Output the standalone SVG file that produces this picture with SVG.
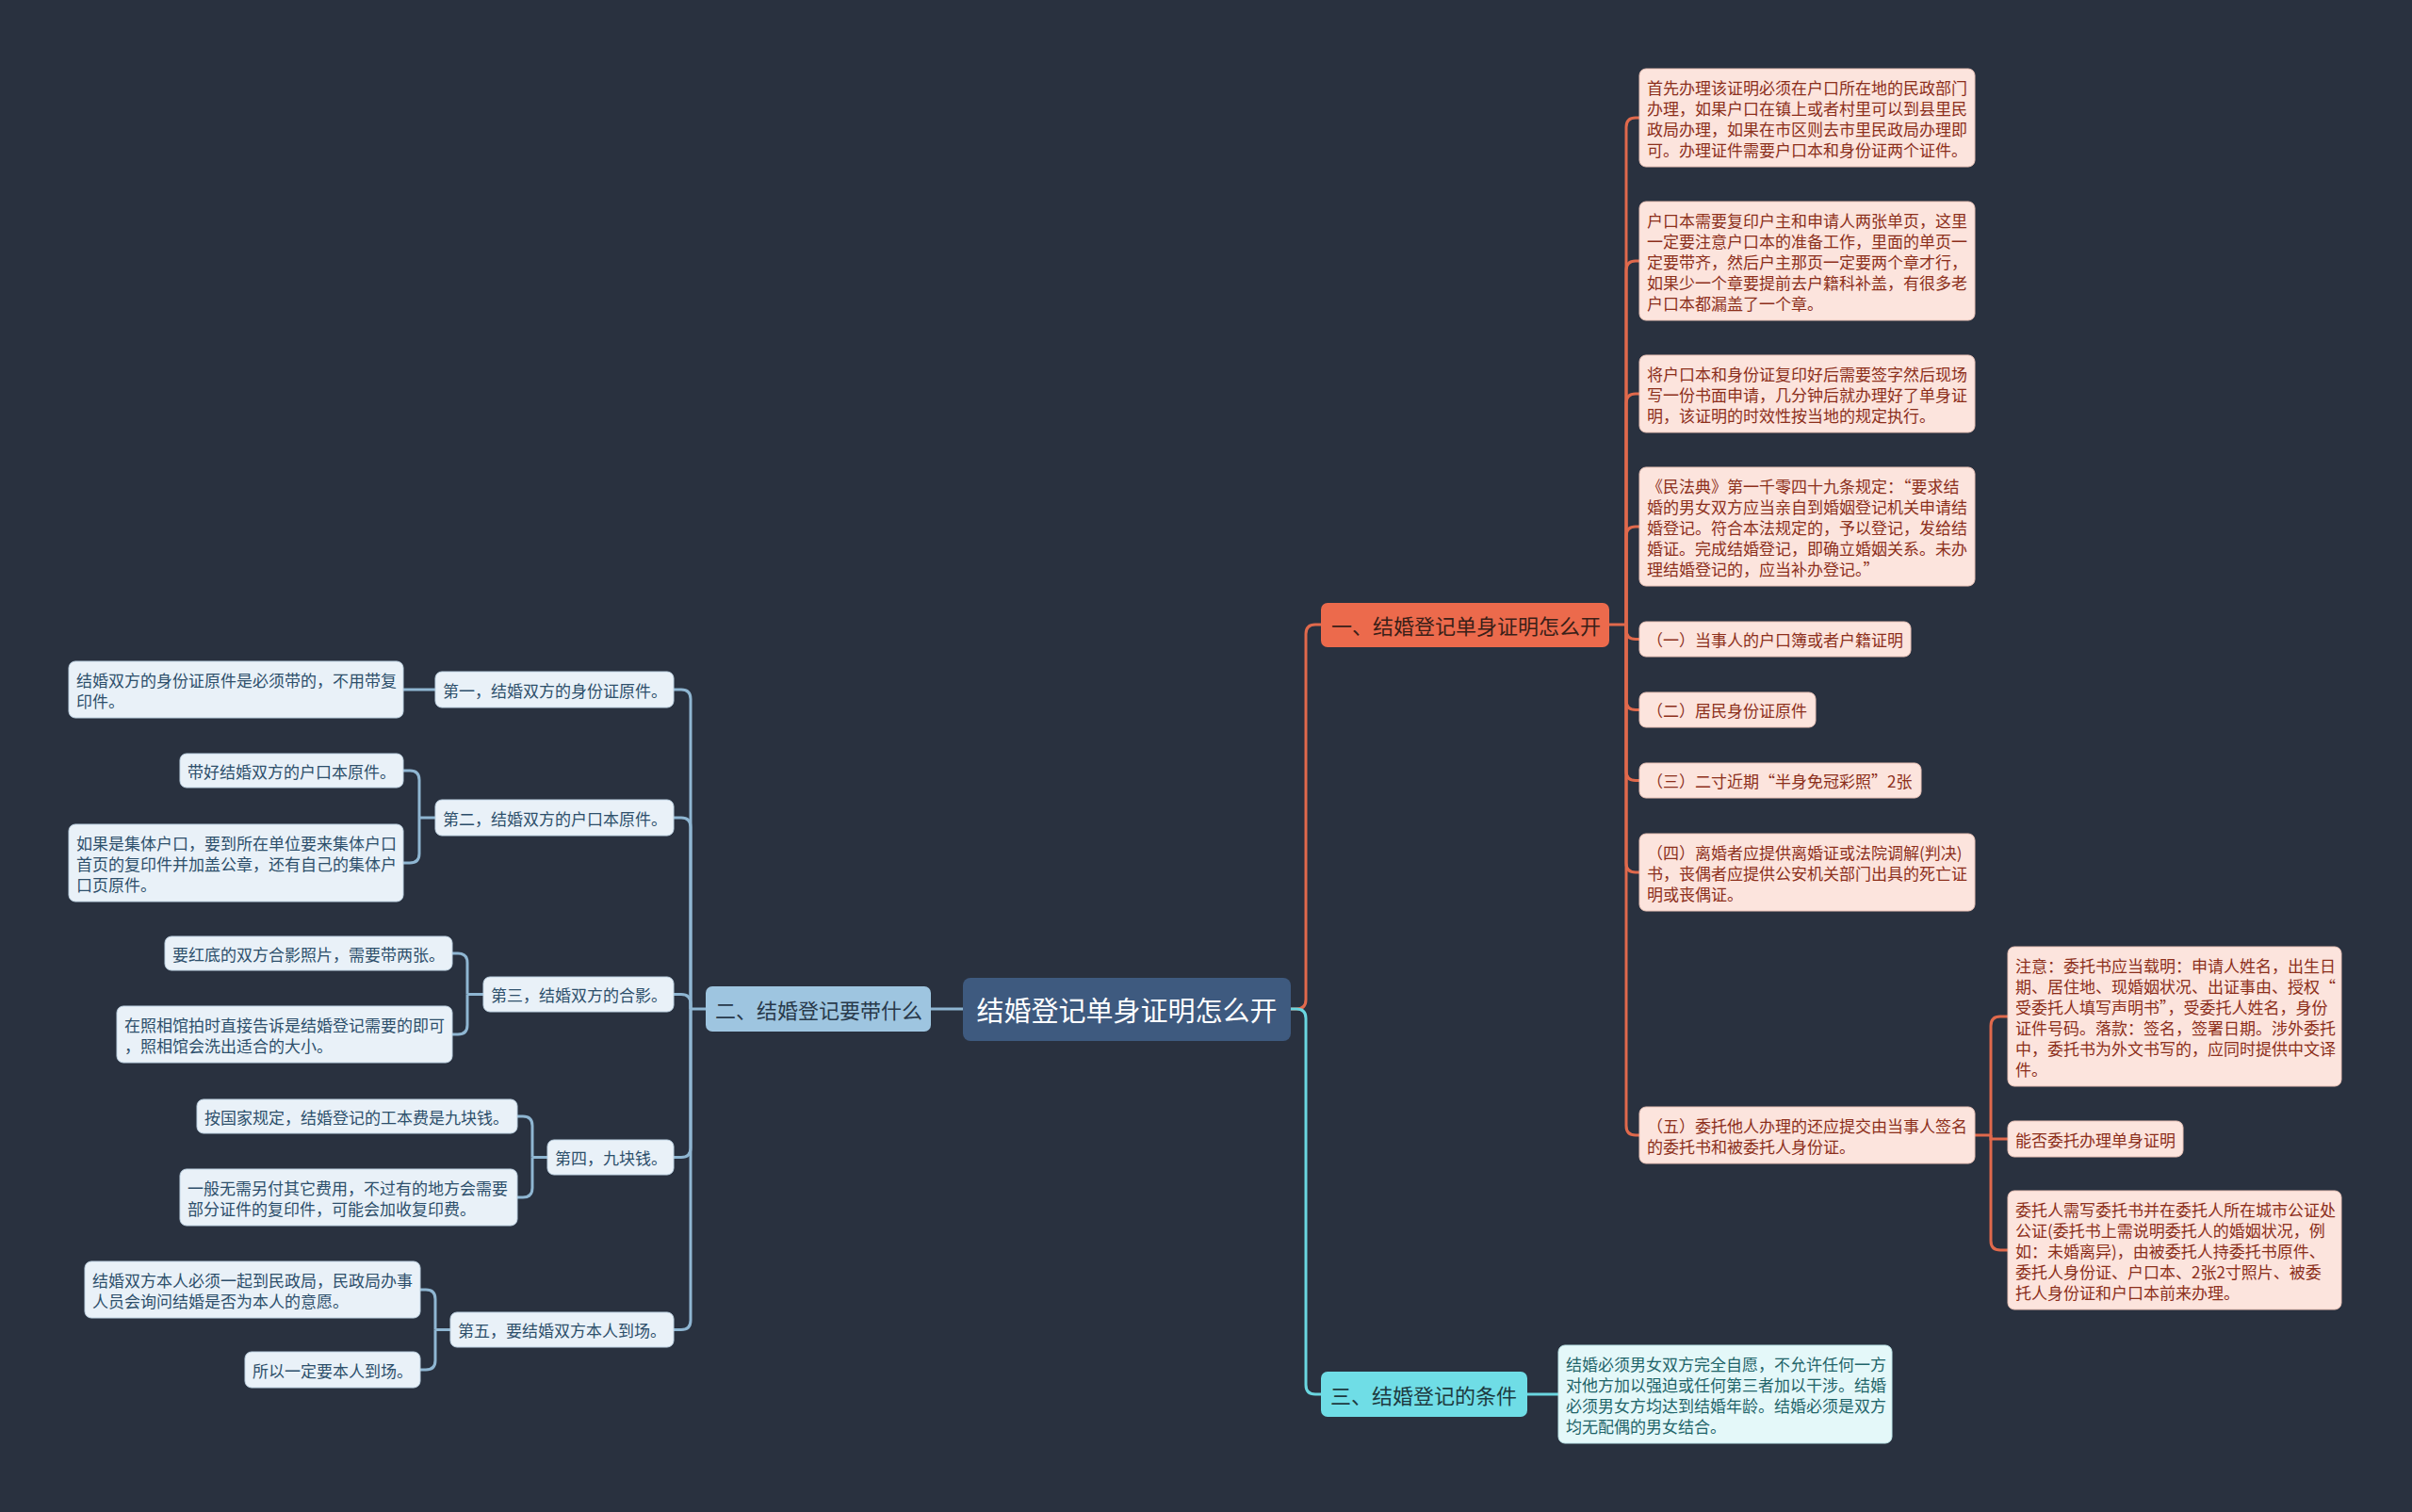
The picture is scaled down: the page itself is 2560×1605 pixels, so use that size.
<svg xmlns="http://www.w3.org/2000/svg" width="2560" height="1605" viewBox="0 0 2560 1605">
<style>
text{font-family:"Noto Sans CJK SC","Microsoft YaHei",sans-serif;dominant-baseline:central}
.rl rect{fill:#fce4dd;stroke:#e9c2b7;stroke-width:1}
.rl text{fill:#8c2f1b;font-size:17px}
.ll rect{fill:#e9f1f8;stroke:#bfd3e3;stroke-width:1}
.ll text{fill:#2d4f6b;font-size:17px}
.cl rect{fill:#e4f8f9;stroke:#bde6e9;stroke-width:1}
.cl text{fill:#1f6469;font-size:17px}
.br text{font-size:22px}
.lo{fill:none;stroke:#e0694c;stroke-width:3}
.lb{fill:none;stroke:#8fb6d2;stroke-width:3}
.lc{fill:none;stroke:#6ad6e0;stroke-width:3}
</style>
<rect width="2560" height="1605" fill="#29313f"/>
<g id="connectors">
<path class="lo" d="M1370,1071 H1376 Q1386,1071 1386,1061 V673 Q1386,663 1396,663 H1402"/>
<path class="lc" d="M1370,1071 H1376 Q1386,1071 1386,1081 V1470 Q1386,1480 1396,1480 H1402"/>
<path class="lc" d="M1621,1480 H1654"/>
<path class="lb" d="M1022,1071 H988"/>
<path class="lo" d="M1708,663 H1726"/>
<path class="lo" d="M1726,663 V135 Q1726,125 1736,125 H1740"/>
<path class="lo" d="M1726,663 V287 Q1726,277 1736,277 H1740"/>
<path class="lo" d="M1726,663 V428 Q1726,418 1736,418 H1740"/>
<path class="lo" d="M1726,663 V569 Q1726,559 1736,559 H1740"/>
<path class="lo" d="M1726,663 V668.5 Q1726,678.5 1736,678.5 H1740"/>
<path class="lo" d="M1726,663 V743.5 Q1726,753.5 1736,753.5 H1740"/>
<path class="lo" d="M1726,663 V818.5 Q1726,828.5 1736,828.5 H1740"/>
<path class="lo" d="M1726,663 V916 Q1726,926 1736,926 H1740"/>
<path class="lo" d="M1726,663 V1195 Q1726,1205 1736,1205 H1740"/>
<path class="lo" d="M2096,1205 H2113"/>
<path class="lo" d="M2113,1205 V1089 Q2113,1079 2123,1079 H2131"/>
<path class="lo" d="M2113,1205 V1209 H2131"/>
<path class="lo" d="M2113,1205 V1317 Q2113,1327 2123,1327 H2131"/>
<path class="lb" d="M749,1071 H733"/>
<path class="lb" d="M733,1071 V742 Q733,732 723,732 H715"/>
<path class="lb" d="M733,1071 V878 Q733,868 723,868 H715"/>
<path class="lb" d="M733,1071 V1065.5 Q733,1055.5 723,1055.5 H715"/>
<path class="lb" d="M733,1071 V1218.5 Q733,1228.5 723,1228.5 H715"/>
<path class="lb" d="M733,1071 V1401.5 Q733,1411.5 723,1411.5 H715"/>
<path class="lb" d="M462,732 H428"/>
<path class="lb" d="M462,868 H445"/>
<path class="lb" d="M445,868 V828 Q445,818 435,818 H428"/>
<path class="lb" d="M445,868 V906 Q445,916 435,916 H428"/>
<path class="lb" d="M513,1055.5 H496"/>
<path class="lb" d="M496,1055.5 V1022 Q496,1012 486,1012 H480"/>
<path class="lb" d="M496,1055.5 V1088 Q496,1098 486,1098 H480"/>
<path class="lb" d="M581,1228.5 H565"/>
<path class="lb" d="M565,1228.5 V1195 Q565,1185 555,1185 H549"/>
<path class="lb" d="M565,1228.5 V1261 Q565,1271 555,1271 H549"/>
<path class="lb" d="M478,1411.5 H462"/>
<path class="lb" d="M462,1411.5 V1379 Q462,1369 452,1369 H446"/>
<path class="lb" d="M462,1411.5 V1444 Q462,1454 452,1454 H446"/>
</g>
<g id="center"><rect x="1022" y="1038" width="348" height="67" rx="8" fill="#3e5a7f"/><text x="1196" y="1071" font-size="29" fill="#ffffff" text-anchor="middle">结婚登记单身证明怎么开</text></g>
<g id="b1" class="br"><rect x="1402" y="640" width="306" height="47" rx="7" fill="#ec6a4c"/><text x="1413" y="663" fill="#3a2018">一、结婚登记单身证明怎么开</text></g>
<g id="b2" class="br"><rect x="749" y="1047" width="239" height="48" rx="7" fill="#9ec5e0"/><text x="759" y="1071" fill="#28394a">二、结婚登记要带什么</text></g>
<g id="b3" class="br"><rect x="1402" y="1456" width="219" height="48" rx="7" fill="#6fdde6"/><text x="1412" y="1480" fill="#1d3a40">三、结婚登记的条件</text></g>
<g id="r1" class="rl"><rect x="1740" y="73" width="356" height="104" rx="7"/><text x="1748"><tspan x="1748" y="92">首先办理该证明必须在户口所在地的民政部门</tspan><tspan x="1748" y="114">办理，如果户口在镇上或者村里可以到县里民</tspan><tspan x="1748" y="136">政局办理，如果在市区则去市里民政局办理即</tspan><tspan x="1748" y="158">可。办理证件需要户口本和身份证两个证件。</tspan></text></g>
<g id="r2" class="rl"><rect x="1740" y="214" width="356" height="126" rx="7"/><text><tspan x="1748" y="233">户口本需要复印户主和申请人两张单页，这里</tspan><tspan x="1748" y="255">一定要注意户口本的准备工作，里面的单页一</tspan><tspan x="1748" y="277">定要带齐，然后户主那页一定要两个章才行，</tspan><tspan x="1748" y="299">如果少一个章要提前去户籍科补盖，有很多老</tspan><tspan x="1748" y="321">户口本都漏盖了一个章。</tspan></text></g>
<g id="r3" class="rl"><rect x="1740" y="377" width="356" height="82" rx="7"/><text><tspan x="1748" y="396">将户口本和身份证复印好后需要签字然后现场</tspan><tspan x="1748" y="418">写一份书面申请，几分钟后就办理好了单身证</tspan><tspan x="1748" y="440">明，该证明的时效性按当地的规定执行。</tspan></text></g>
<g id="r4" class="rl"><rect x="1740" y="496" width="356" height="126" rx="7"/><text><tspan x="1748" y="515">《民法典》第一千零四十九条规定：“要求结</tspan><tspan x="1748" y="537">婚的男女双方应当亲自到婚姻登记机关申请结</tspan><tspan x="1748" y="559">婚登记。符合本法规定的，予以登记，发给结</tspan><tspan x="1748" y="581">婚证。完成结婚登记，即确立婚姻关系。未办</tspan><tspan x="1748" y="603">理结婚登记的，应当补办登记。”</tspan></text></g>
<g id="r5" class="rl"><rect x="1740" y="660" width="288" height="37" rx="7"/><text x="1748" y="678.5">（一）当事人的户口簿或者户籍证明</text></g>
<g id="r6" class="rl"><rect x="1740" y="735" width="187" height="37" rx="7"/><text x="1748" y="753.5">（二）居民身份证原件</text></g>
<g id="r7" class="rl"><rect x="1740" y="810" width="299" height="37" rx="7"/><text x="1748" y="828.5">（三）二寸近期“半身免冠彩照”2张</text></g>
<g id="r8" class="rl"><rect x="1740" y="885" width="356" height="82" rx="7"/><text><tspan x="1748" y="904">（四）离婚者应提供离婚证或法院调解(判决)</tspan><tspan x="1748" y="926">书，丧偶者应提供公安机关部门出具的死亡证</tspan><tspan x="1748" y="948">明或丧偶证。</tspan></text></g>
<g id="r9" class="rl"><rect x="1740" y="1175" width="356" height="60" rx="7"/><text><tspan x="1748" y="1194">（五）委托他人办理的还应提交由当事人签名</tspan><tspan x="1748" y="1216">的委托书和被委托人身份证。</tspan></text></g>
<g id="r9a" class="rl"><rect x="2131" y="1005" width="354" height="148" rx="7"/><text><tspan x="2139" y="1024">注意：委托书应当载明：申请人姓名，出生日</tspan><tspan x="2139" y="1046">期、居住地、现婚姻状况、出证事由、授权“</tspan><tspan x="2139" y="1068">受委托人填写声明书”，受委托人姓名，身份</tspan><tspan x="2139" y="1090">证件号码。落款：签名，签署日期。涉外委托</tspan><tspan x="2139" y="1112">中，委托书为外文书写的，应同时提供中文译</tspan><tspan x="2139" y="1134">件。</tspan></text></g>
<g id="r9b" class="rl"><rect x="2131" y="1190" width="186" height="38" rx="7"/><text x="2139" y="1209">能否委托办理单身证明</text></g>
<g id="r9c" class="rl"><rect x="2131" y="1264" width="354" height="126" rx="7"/><text><tspan x="2139" y="1283">委托人需写委托书并在委托人所在城市公证处</tspan><tspan x="2139" y="1305">公证(委托书上需说明委托人的婚姻状况，例</tspan><tspan x="2139" y="1327">如：未婚离异)，由被委托人持委托书原件、</tspan><tspan x="2139" y="1349">委托人身份证、户口本、2张2寸照片、被委</tspan><tspan x="2139" y="1371">托人身份证和户口本前来办理。</tspan></text></g>
<g id="c1" class="cl"><rect x="1654" y="1428" width="354" height="104" rx="7"/><text><tspan x="1662" y="1447">结婚必须男女双方完全自愿，不允许任何一方</tspan><tspan x="1662" y="1469">对他方加以强迫或任何第三者加以干涉。结婚</tspan><tspan x="1662" y="1491">必须男女方均达到结婚年龄。结婚必须是双方</tspan><tspan x="1662" y="1513">均无配偶的男女结合。</tspan></text></g>
<g id="s1" class="ll"><rect x="462" y="713" width="253" height="38" rx="7"/><text x="470" y="732">第一，结婚双方的身份证原件。</text></g>
<g id="s2" class="ll"><rect x="462" y="849" width="253" height="38" rx="7"/><text x="470" y="868">第二，结婚双方的户口本原件。</text></g>
<g id="s3" class="ll"><rect x="513" y="1037" width="202" height="37" rx="7"/><text x="521" y="1055.5">第三，结婚双方的合影。</text></g>
<g id="s4" class="ll"><rect x="581" y="1210" width="134" height="37" rx="7"/><text x="589" y="1228.5">第四，九块钱。</text></g>
<g id="s5" class="ll"><rect x="478" y="1393" width="237" height="37" rx="7"/><text x="486" y="1411.5">第五，要结婚双方本人到场。</text></g>
<g id="s1a" class="ll"><rect x="73" y="702" width="355" height="60" rx="7"/><text><tspan x="81" y="721">结婚双方的身份证原件是必须带的，不用带复</tspan><tspan x="81" y="743">印件。</tspan></text></g>
<g id="s2a" class="ll"><rect x="191" y="800" width="237" height="36" rx="7"/><text x="199" y="818">带好结婚双方的户口本原件。</text></g>
<g id="s2b" class="ll"><rect x="73" y="875" width="355" height="82" rx="7"/><text><tspan x="81" y="894">如果是集体户口，要到所在单位要来集体户口</tspan><tspan x="81" y="916">首页的复印件并加盖公章，还有自己的集体户</tspan><tspan x="81" y="938">口页原件。</tspan></text></g>
<g id="s3a" class="ll"><rect x="175" y="994" width="305" height="36" rx="7"/><text x="183" y="1012">要红底的双方合影照片，需要带两张。</text></g>
<g id="s3b" class="ll"><rect x="124" y="1068" width="356" height="60" rx="7"/><text><tspan x="132" y="1087">在照相馆拍时直接告诉是结婚登记需要的即可</tspan><tspan x="132" y="1109">，照相馆会洗出适合的大小。</tspan></text></g>
<g id="s4a" class="ll"><rect x="209" y="1167" width="340" height="36" rx="7"/><text x="217" y="1185">按国家规定，结婚登记的工本费是九块钱。</text></g>
<g id="s4b" class="ll"><rect x="191" y="1241" width="358" height="60" rx="7"/><text><tspan x="199" y="1260">一般无需另付其它费用，不过有的地方会需要</tspan><tspan x="199" y="1282">部分证件的复印件，可能会加收复印费。</tspan></text></g>
<g id="s5a" class="ll"><rect x="90" y="1339" width="356" height="60" rx="7"/><text><tspan x="98" y="1358">结婚双方本人必须一起到民政局，民政局办事</tspan><tspan x="98" y="1380">人员会询问结婚是否为本人的意愿。</tspan></text></g>
<g id="s5b" class="ll"><rect x="260" y="1435" width="186" height="38" rx="7"/><text x="268" y="1454">所以一定要本人到场。</text></g>
</svg>
